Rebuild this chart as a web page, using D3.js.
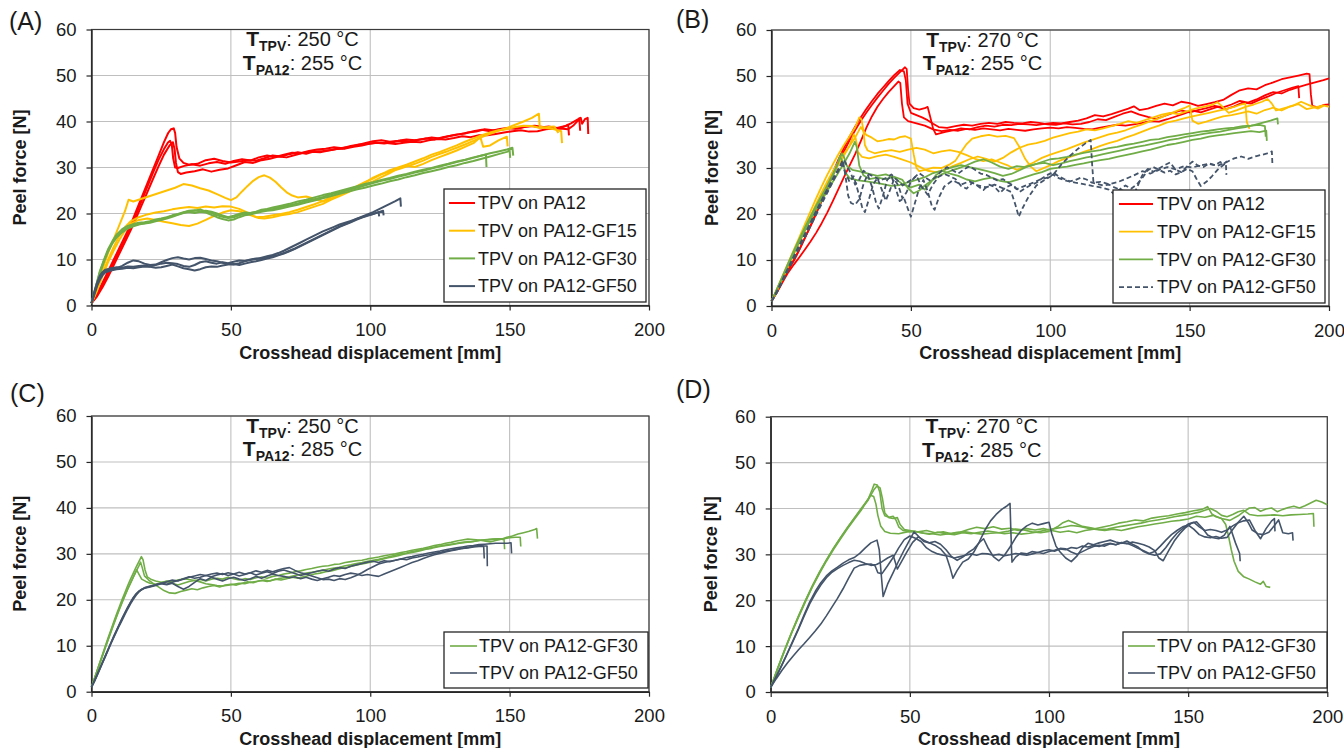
<!DOCTYPE html>
<html>
<head>
<meta charset="utf-8">
<script src="https://cdn.jsdelivr.net/npm/d3@7"></script>
<style>
  html, body { margin: 0; padding: 0; background: #fff; }
  svg { display: block; font-family: "Liberation Sans", Arial, sans-serif; }
</style>
</head>
<body>
<svg id="fig" width="1344" height="748"></svg>
<script>
// ---- axis ticks and labels ----
const xTicks = [0, 50, 100, 150, 200];
const yTicks = [0, 10, 20, 30, 40, 50, 60];
const panelLabels = ["(A)", "(B)", "(C)", "(D)"];
const seriesLabels = ["TPV on PA12", "TPV on PA12-GF15", "TPV on PA12-GF30", "TPV on PA12-GF50"];
const tempTPV = ["250", "270", "250", "270"];
const tempPA12 = ["255", "255", "285", "285"];

// ---- peel curves: [crosshead displacement mm, peel force N], three specimens per substrate ----
// (A) T_TPV 250 °C, T_PA12 255 °C
const a_pa12 = [
  [[0,0.5],[2,2.5],[4,5],[6,7.5],[8,10],[10,12.5],[12,15],[14,17.5],[16,20.5],[18,23.5],[20,26.5],[22,29.5],[24,32.5],[26,35.5],[27.5,37.5],[28.5,38.3],[29.5,38.5],[30,37.5],[30.5,34.5],[31.5,32],[33,31],[35,30.6],[38,30.8],[41,31.6],[44,31.9],[47,31.4],[50,31.1],[53,31.3],[56,31.6],[59,31.5],[62,32],[65,32.6],[68,32.4],[71,32.9],[74,33.3],[77,33],[80,33.5],[83,33.6],[86,33.8],[89,34.2],[92,34.4],[95,34.8],[98,35.3],[101,35.7],[104,35.9],[107,35.6],[110,35.8],[113,36.1],[116,35.9],[119,36.2],[122,36.5],[125,36.3],[128,36.8],[131,37.2],[134,37.4],[137,37.9],[140,38.2],[143,37.9],[146,38.3],[149,38.6],[152,38.4],[155,38.8],[158,39],[161,38.7],[164,38.9],[167,38.6],[170,39],[172,39.6],[174,40.3],[175.5,40.8],[176,39.5],[177,40.5],[178,40.8],[178.2,37.3]],
  [[0,0.5],[2,2.2],[4,4.5],[6,7],[8,9.5],[10,12],[12,14.5],[14,17],[16,19.8],[18,22.8],[20,25.8],[22,28.8],[24,31.6],[26,34],[27.5,35.5],[28.2,35.8],[28.8,35],[29.3,32],[30,30],[31,29.9],[33,30.3],[36,30.7],[39,30.4],[42,30.9],[45,31.2],[48,30.8],[51,31.4],[54,31.8],[57,31.5],[60,32.2],[63,32.6],[66,32.3],[69,32.8],[72,33.2],[75,33.1],[78,33.6],[81,33.9],[84,34.1],[87,34.4],[90,34.2],[93,34.7],[96,35],[99,35.1],[102,35.4],[105,35.2],[108,35.5],[111,35.8],[114,35.7],[117,36],[120,36.3],[123,36.1],[126,36.6],[129,36.9],[132,37.2],[135,37.6],[138,37.8],[141,38.3],[144,38.1],[147,38.2],[150,38.6],[153,38.5],[156,38.9],[159,39.1],[162,38.8],[165,38.5],[168,38.6],[170,39],[171,39.3],[171.3,37]],
  [[0,0.5],[2,2],[4,4],[6,6.3],[8,8.8],[10,11.3],[12,13.8],[14,16.3],[16,19],[18,21.8],[20,24.6],[22,27.4],[24,30.2],[26,32.8],[28,34.8],[29.2,35.5],[29.8,34],[30.3,31],[31,29],[32,28.6],[34,28.9],[37,29.2],[40,29.6],[43,29.1],[46,29.5],[49,29.8],[52,30.5],[55,31.2],[58,31],[61,31.6],[64,31.9],[67,32.4],[70,32.2],[73,32.7],[76,33.2],[79,33.4],[82,33.3],[85,33.7],[88,34],[91,34.1],[94,34.5],[97,34.8],[100,35.2],[103,35.4],[106,35.3],[109,35.1],[112,35.4],[115,35.6],[118,35.5],[121,35.9],[124,36.2],[127,36.1],[130,36.4],[133,36.8],[136,36.6],[139,37],[142,37],[145,37.3],[148,37.6],[151,37.9],[154,38.1],[157,37.8],[160,37.9],[163,38.3],[166,38.5],[169,38.4],[171,38.3],[173,39.2],[174.5,40.2],[175,40.7],[175.3,38]]
];
const a_gf15 = [
  [[0,0.5],[2,4],[4,8],[6,11.5],[8,14.5],[10,17.5],[12,20.5],[13.3,23],[15,22.6],[18,23.2],[21,23.8],[24,24.4],[27,25],[30,25.6],[33,26.4],[36,26.1],[39,25.5],[42,25],[45,24.2],[48,23.4],[50,22.9],[52,23.5],[54,24.8],[56,26],[58,27.1],[60,27.9],[62,28.3],[64,27.8],[66,26.9],[68,25.7],[70,24.6],[72,23.9],[74,23.5],[77,23.7],[80,23.2],[83,22.6],[86,23.2],[89,24],[92,25],[95,25.8],[98,26.6],[101,27.8],[104,28.6],[107,29.1],[110,29.6],[113,30.2],[116,30.8],[119,31.5],[122,32.3],[125,33],[128,33.6],[131,34.3],[134,35],[137,35.8],[140,36.6],[143,37.3],[146,38],[149,38.6],[152,39.3],[155,40],[158,40.8],[160.5,41.7],[160.8,38.9],[163,38.6],[166,38.3],[168.5,37.9],[168.8,35.3]],
  [[0,0.5],[2,3.5],[4,7],[6,10],[8,12.8],[10,15.2],[12,17],[14,18.3],[17,19.2],[20,19.8],[23,20.2],[26,20.5],[29,20.9],[32,21.2],[35,21.4],[38,21.2],[41,21.5],[44,21.3],[47,21.6],[50,21.5],[53,21],[56,20.2],[58,19.5],[60,19],[62,18.9],[65,19.2],[68,19.6],[71,19.9],[74,20.3],[77,20.9],[80,21.5],[83,22.1],[86,23],[89,23.8],[92,24.6],[95,25.5],[98,26.2],[101,27],[104,27.9],[107,28.8],[110,29.8],[113,30.4],[116,30.1],[119,30.8],[122,31.6],[125,32.3],[128,33],[131,33.7],[134,34.5],[137,35.3],[139.5,36.6],[140.5,34.5],[143,34.8],[146,35.9],[149,36.7],[149.3,34.6]],
  [[0,0.5],[2,3.2],[4,6.5],[6,9.5],[8,12],[10,14.3],[12,16.3],[14,17.8],[17,18.6],[20,18.9],[23,18.6],[26,18.2],[29,17.9],[32,17.5],[35,17.3],[38,17.8],[41,18.6],[44,19.5],[47,20.2],[50,20.7],[53,20.5],[56,19.9],[59,19.2],[62,19.3],[65,19.6],[68,19.9],[71,20.3],[74,20.8],[77,21.4],[80,22],[83,22.7],[86,23.6],[89,24.4],[92,25.1],[95,25.9],[98,26.8],[101,27.6],[104,28.5],[107,29.4],[110,30],[113,30.6],[116,31.3],[119,32],[122,32.8],[125,33.4],[128,34.1],[131,34.8],[134,35.6],[137,36.3],[140,37],[143,37.6],[146,38.1],[149,38.3],[152,38.8],[155,39.1],[158,39],[161,38.6],[164,38.8],[166,38.9],[167.5,37.5]]
];
const a_gf30 = [
  [[0,0.5],[1.5,4],[3,7.5],[4.5,10],[6,12.3],[7.5,14],[9,15.4],[11,16.6],[13,17.3],[15,17.7],[17,18],[19,18.1],[21,18.3],[23,18.7],[25,18.9],[27,19.2],[29,19.6],[31,19.9],[33,20.3],[35,20.6],[37,20.7],[39,20.5],[41,20.6],[43,20.4],[45,20],[47,19.6],[49,19.2],[51,19.5],[53,19.9],[55,20.2],[57,20.1],[59,20.3],[61,20.6],[63,20.9],[65,21],[68,21.4],[71,21.8],[74,22.2],[77,22.7],[80,23.1],[83,23.6],[86,24.2],[89,24.6],[92,25.1],[95,25.6],[98,26.1],[101,26.6],[104,27.1],[107,27.5],[110,28],[113,28.4],[116,28.9],[119,29.3],[122,29.8],[125,30.2],[128,30.7],[131,31.2],[134,31.6],[137,32.1],[140,32.6],[143,33.1],[146,33.5],[149,33.9],[151,34.3],[151.3,32.6]],
  [[0,0.5],[1.5,3.6],[3,7],[4.5,9.6],[6,11.8],[7.5,13.5],[9,14.8],[11,15.9],[13,16.7],[15,17.2],[17,17.6],[19,17.9],[21,18.2],[23,18.5],[25,18.6],[27,18.9],[29,19.3],[31,19.7],[33,20.1],[35,20.3],[37,20.1],[39,20.4],[41,20.2],[43,19.7],[45,19.2],[47,18.8],[49,18.5],[51,18.7],[53,19.2],[55,19.6],[57,19.8],[59,20.1],[61,20.4],[63,20.6],[65,20.7],[68,21.1],[71,21.5],[74,21.9],[77,22.4],[80,22.8],[83,23.3],[86,23.8],[89,24.3],[92,24.7],[95,25.2],[98,25.6],[101,26.1],[104,26.5],[107,27],[110,27.4],[113,27.9],[116,28.3],[119,28.8],[122,29.2],[125,29.6],[128,30.1],[131,30.5],[134,31],[137,31.4],[140,31.9],[143,32.4],[146,32.9],[149,33.4],[150,33.7],[150.2,32.1]],
  [[0,0.5],[1.5,3.8],[3,7.2],[4.5,9.8],[6,12],[7.5,13.7],[9,15],[11,16.2],[13,16.9],[15,17.4],[17,17.7],[19,17.8],[21,18],[23,18.3],[25,18.7],[27,19.1],[29,19.5],[31,19.8],[33,20.2],[35,20.5],[37,20.6],[39,20.9],[41,20.4],[43,20.1],[45,19.6],[47,19.3],[49,19],[51,19.2],[53,19.6],[55,19.9],[57,20.1],[59,20.4],[61,20.8],[63,21],[65,21.3],[68,21.7],[71,22.1],[74,22.6],[77,23],[80,23.5],[83,24],[86,24.4],[89,24.9],[92,25.4],[95,25.9],[98,26.4],[101,26.8],[104,27.3],[107,27.7],[110,28.2],[113,28.6],[116,29.1],[119,29.5],[122,29.9],[125,30.4],[128,30.8],[131,31.3],[134,31.7],[137,32.2],[140,32.6],[141.5,32.8],[141.7,30.1]]
];
const a_gf50 = [
  [[0,0.5],[1,3],[2,5],[3,6.5],[4,7.3],[5,7.8],[7,8.1],[9,8.3],[11,8.2],[13,8.5],[15,8.4],[17,8.6],[19,8.7],[21,8.5],[23,8.8],[25,9.1],[27,9.3],[29,9.2],[31,9],[33,8.6],[35,8.4],[37,8.8],[39,9.4],[41,9.6],[43,9.3],[45,9.1],[47,9.4],[49,9.2],[51,9.5],[53,9.8],[55,9.7],[57,10],[59,10.2],[61,10.1],[63,10.4],[65,10.8],[67,11],[69,11.4],[71,11.9],[73,12.4],[75,13],[77,13.6],[79,14.2],[81,14.8],[83,15.4],[85,16],[87,16.6],[89,17.2],[91,17.7],[93,18.2],[95,18.8],[97,19.3],[99,19.8],[101,20.3],[103,20.9],[105,21.5],[107,22.1],[109,22.7],[110.8,23.3],[111,21.5]],
  [[0,0.5],[1,2.6],[2,4.6],[3,6],[4,7],[5,7.5],[7,7.8],[9,8.1],[11,8.6],[13,9.3],[15,9.8],[17,9.6],[19,9.1],[21,8.8],[23,8.9],[25,9.4],[27,9.9],[29,10.3],[31,10.5],[33,10.2],[35,10],[37,10.3],[39,10.4],[41,10.1],[43,9.8],[45,9.6],[47,9.3],[49,9],[51,8.9],[53,9.2],[55,9.6],[57,9.9],[59,10.1],[61,10.4],[63,10.7],[65,11],[67,11.4],[69,11.9],[71,12.5],[73,13.1],[75,13.7],[77,14.3],[79,14.9],[81,15.5],[83,16.1],[85,16.6],[87,17.1],[89,17.6],[91,18],[93,18.4],[95,18.8],[97,19.2],[99,19.6],[101,19.9],[103,20.3],[104.6,20.6],[104.8,19.6]],
  [[0,0.5],[1,2.3],[2,4.2],[3,5.6],[4,6.6],[5,7.2],[7,7.6],[9,7.9],[11,8],[13,8.2],[15,8.1],[17,8.3],[19,8.5],[21,8.4],[23,8.2],[25,8.3],[27,8.6],[29,8.9],[31,8.5],[33,8.1],[35,7.9],[37,7.6],[39,7.9],[41,8.3],[43,8.5],[45,8.4],[47,8.7],[49,8.9],[51,9],[53,8.8],[55,9.1],[57,9.4],[59,9.6],[61,9.9],[63,10.2],[65,10.5],[67,10.9],[69,11.3],[71,11.8],[73,12.3],[75,12.9],[77,13.5],[79,14.1],[81,14.7],[83,15.3],[85,15.9],[87,16.5],[89,17.1],[91,17.6],[93,18.1],[95,18.6],[97,19.1],[99,19.5],[101,19.9],[103,20.3],[103.2,19.4]]
];

// (B) T_TPV 270 °C, T_PA12 255 °C
const b_pa12 = [
  [[0,1],[2,3.5],[4,6],[6,8.2],[8,10],[10,12.3],[12,14.8],[14,17.3],[16,20],[18,22.8],[20,25.6],[22,28.4],[24,31],[26,33.6],[28,36],[30,38.2],[32,40.2],[34,42],[36,43.7],[38,45.3],[40,46.8],[42,48.3],[44,49.6],[46,50.8],[47.9,51.9],[48.5,51.5],[49,47],[49.5,44],[51,43],[53,42.7],[55,43],[56,43.3],[57,41],[58,38.5],[59,37.3],[62,37.8],[65,38.2],[68,38.6],[71,38.4],[74,38.9],[77,39.2],[80,39],[83,39.4],[86,39.3],[89,39.6],[92,39.5],[95,39.3],[98,39.6],[101,39.8],[104,39.7],[107,40],[110,40.3],[113,40.8],[116,41.5],[119,41.2],[122,41.7],[125,42.3],[128,42.9],[130,43.4],[132,42.6],[135,42.9],[138,43.5],[141,44],[144,43.6],[147,44.4],[150,44.1],[153,43.5],[156,43.9],[159,44.3],[162,44.8],[165,45.9],[168,46.9],[171,47.3],[174,47.1],[177,48],[180,48.6],[183,49.3],[186,49.7],[189,50.1],[192,50.5],[193,50.4],[193.5,46],[194,43.5],[196,43.2],[198,43.7],[200,43.8]],
  [[0,1],[2,3.2],[4,5.6],[6,7.7],[8,9.8],[10,12.2],[12,14.8],[14,17.5],[16,20.3],[18,23.2],[20,26.1],[22,29],[24,31.8],[26,34.4],[28,36.8],[30,39],[32,41],[34,42.8],[36,44.5],[38,46.1],[40,47.5],[42,48.9],[44,50.2],[46.1,51.3],[47.5,51],[48.2,49],[48.8,44],[50,42],[52,41.5],[54,41],[56,40.4],[58,39.6],[60,38.9],[63,38.7],[66,39.1],[69,39.4],[72,39.2],[75,39.6],[78,39.8],[81,39.6],[84,40],[87,39.8],[90,39.7],[93,40],[96,39.8],[99,39.5],[102,39.4],[105,39.7],[108,39.5],[111,39.6],[114,40],[117,40.6],[120,40.4],[123,41.1],[126,41.8],[129,42.3],[132,41.6],[135,41.1],[138,40.7],[141,41.3],[144,42],[147,42.5],[150,42.1],[153,42.6],[156,43],[159,43.5],[162,43.2],[165,43.8],[168,44.6],[171,44.2],[174,44.9],[177,45.8],[180,46.5],[183,46.2],[186,47],[189,47.6],[192,48.1],[195,48.6],[198,49.1],[200,49.5]],
  [[0,1],[2,3],[4,5.2],[6,7.3],[8,9],[10,10.6],[12,12.3],[14,14],[16,15.9],[18,18],[20,20.3],[22,22.8],[24,25.4],[26,28],[28,30.5],[30,33],[32,35.8],[34,38.7],[36,41.2],[38,43.3],[40,45],[42,46.5],[44,47.8],[45.5,48.8],[46.2,48.5],[46.8,44],[47.5,41],[49,40.2],[52,39.7],[55,39.2],[58,38.4],[61,38],[64,38.3],[67,38.1],[70,38.5],[73,38.3],[76,38.6],[79,38.4],[82,38.2],[85,38.5],[88,38.3],[91,38.1],[94,38.4],[97,38.6],[100,38.8],[103,38.6],[106,38.9],[109,38.7],[112,38.5],[115,38.4],[118,38.8],[121,39.1],[124,39.4],[127,39.2],[130,39.5],[133,39.8],[136,40.2],[139,40.1],[142,40.6],[145,41.2],[148,41.8],[151,42.5],[154,42.1],[157,42.7],[160,43.3],[163,42.8],[166,43.4],[169,44.2],[172,44],[175,44.8],[178,45.5],[181,46.3],[184,46.9],[187,47.5],[189,47.8],[189.3,45.2]]
];
const b_gf15 = [
  [[0,1],[2,3.8],[4,6.6],[6,9.4],[8,12.2],[10,15],[12,17.8],[14,20.6],[16,23.4],[18,26],[20,28.5],[22,30.8],[24,33],[26,35],[28,36.9],[30,38.8],[31.5,41],[32.3,40.5],[33,38],[34,37.2],[36,36.6],[38,35.8],[40,36],[42,36.3],[44,36.2],[46,36.7],[48,36.9],[50,36.4],[51,33],[52,30],[53,29.3],[55,29.6],[58,30.1],[61,30],[64,30.8],[66,31.6],[68,33.5],[70,35.2],[72,36.4],[75,36.9],[78,37.2],[81,36.8],[84,37],[87,36.5],[89,34.5],[91,32],[93,30.3],[95,29.3],[97,29.8],[100,30.6],[103,31.5],[106,32.2],[109,32.8],[112,33.5],[115,34.1],[118,34.8],[121,35.4],[124,35.9],[127,36.6],[130,37.2],[133,37.9],[136,38.6],[139,39.2],[142,39.9],[145,40.3],[148,40.8],[151,41.2],[154,41.6],[157,42],[160,42.4],[163,42.8],[166,43.3],[168,43.7],[170,44],[170.5,40],[171.5,38.5]],
  [[0,1],[2,3.6],[4,6.2],[6,8.9],[8,11.6],[10,14.3],[12,17],[14,19.6],[16,22.2],[18,24.7],[20,27.1],[22,29.3],[24,31.3],[26,33.1],[28,34.8],[30,36.6],[32,38.9],[33,38],[33.5,35],[34.5,33.8],[37,33.2],[40,33.6],[43,33.9],[46,33.5],[49,34],[52,34.4],[55,34],[58,33.2],[61,33.6],[64,33.9],[67,33.5],[70,32.8],[73,32],[76,31.5],[79,31.9],[82,31.2],[85,30.5],[88,29.6],[91,30.3],[94,31.2],[97,32.2],[100,32.9],[103,33.5],[106,34.1],[109,34.8],[112,35.5],[115,36.1],[118,36.7],[121,37.3],[124,37.7],[127,38.2],[130,38.9],[133,39.5],[136,40.2],[139,40.8],[142,41.6],[145,42.3],[148,43],[150,43.6],[151,40.3],[153,39.6],[156,40.1],[159,40.7],[162,41.2],[165,41.5],[168,41.9],[171,42.3],[174,41.8],[177,42.6],[180,43.1],[183,42.5],[186,43.4],[189,43.9],[192,42.8],[195,43.2],[198,43.6],[200,43.3]],
  [[0,1],[2,3.4],[4,6],[6,8.6],[8,11.2],[10,13.8],[12,16.4],[14,19],[16,21.5],[18,24],[20,26.4],[22,28.6],[24,30.7],[26,32.7],[28,34.8],[29.5,37.3],[30.2,36.5],[31,33.5],[32.5,32.4],[35,32.1],[38,32.6],[41,32.9],[44,32.4],[47,31.8],[50,31.2],[53,30.3],[56,29.4],[59,29.1],[62,29.6],[65,30.4],[68,31.1],[71,31.9],[74,32.5],[77,32],[80,31.4],[83,32.2],[86,33.4],[89,34.4],[92,35.1],[95,35.4],[98,35.9],[101,36.6],[104,37.1],[107,37.6],[110,37.9],[113,38.4],[116,38.2],[119,38.6],[122,39.1],[125,39.6],[128,40.2],[131,39.8],[134,40.4],[137,41],[140,41.6],[143,42],[146,41.7],[149,42.3],[152,42.9],[155,43.3],[158,43.7],[160,44.3],[162,43.2],[164,42],[167,42.6],[170,43.3],[173,43.8],[176,44.4],[178,45],[179.5,44],[181,42.5],[184,43],[187,43.5],[190,44.4],[193,43.6],[196,42.9],[198,43.5]]
];
const b_gf30 = [
  [[0,1],[2,3.5],[4,6.2],[6,8.9],[8,11.5],[10,14],[12,16.4],[14,18.7],[16,20.9],[18,23],[20,25],[22,27],[24,29],[26,31],[28,33.2],[29.9,35.7],[30.6,34.5],[31.5,30.5],[33,28.4],[35,27.6],[38,27.9],[41,27.6],[44,28.1],[47,27.4],[49,25.6],[51,24.5],[53,25.1],[55,26.2],[58,27.5],[61,28.6],[64,29.3],[67,29.9],[70,30.6],[73,31.4],[76,31.9],[79,31.2],[82,30.3],[85,29.8],[88,30.4],[91,30.2],[94,30.7],[97,31.3],[100,31.9],[103,32.1],[106,32.4],[109,32.9],[112,33.3],[115,33.6],[118,33.9],[121,34.3],[124,34.6],[127,35],[130,35.3],[133,35.7],[136,36.1],[139,36.3],[142,36.7],[145,37],[148,37.3],[151,37.6],[154,37.9],[157,38.1],[160,38.4],[163,38.6],[166,38.8],[169,39.1],[172,39.2],[175,39.4],[177,39.1],[177.3,36.8]],
  [[0,1],[2,3.7],[4,6.5],[6,9.3],[8,12],[10,14.6],[12,17.1],[14,19.5],[16,21.8],[18,24],[20,26.2],[22,28.6],[24,31.3],[25.2,33.2],[26,32.4],[27,30.5],[29,29.6],[32,29.2],[35,28.7],[38,28.3],[41,28.6],[44,27.9],[47,26.5],[50,25.8],[53,26.4],[55,25.3],[57,26.8],[59,28.5],[62,29.6],[65,30.2],[68,30.6],[71,30.2],[74,29.8],[77,29.4],[80,28.9],[83,28.3],[86,28.7],[89,29.5],[92,30.4],[95,30.9],[98,31.1],[101,30.6],[104,31],[107,31.5],[110,31.9],[113,32.3],[116,32.6],[119,33],[122,33.4],[125,33.8],[128,34.2],[131,34.6],[134,34.9],[137,35.3],[140,35.7],[143,36.1],[146,36.4],[149,36.8],[152,37.1],[155,37.4],[158,37.7],[161,37.9],[164,38.3],[167,38.6],[170,38.9],[173,39.3],[176,39.8],[179,40.3],[181.5,40.8],[181.7,39.5]],
  [[0,1],[2,3.6],[4,6.3],[6,9],[8,11.7],[10,14.3],[12,16.8],[14,19.2],[16,21.5],[18,23.7],[20,25.9],[22,28.2],[23.5,30.5],[24.5,32.5],[25.5,31.5],[26.5,29],[28,27.8],[31,27.3],[34,27.1],[37,26.8],[40,26.5],[43,26.1],[46,26.3],[49,26.9],[52,27.4],[55,28],[58,28.9],[61,29.4],[64,28.8],[67,28.3],[70,27.5],[73,27.1],[76,27.6],[79,27.9],[82,27.2],[85,26.9],[88,27.4],[91,28],[94,28.6],[97,29.1],[100,29.8],[103,30.1],[106,30.3],[109,30.7],[112,31],[115,31.4],[118,31.7],[121,32],[124,32.4],[127,32.8],[130,33.2],[133,33.6],[136,34],[139,34.5],[142,35],[145,35.3],[148,35.7],[151,36.1],[154,36.4],[157,36.8],[160,37.1],[163,37.3],[166,37.6],[169,37.8],[172,38],[175,37.8],[177.5,38.1],[177.7,35.9]]
];
const b_gf50 = [
  [[0,1],[2,3.3],[4,5.8],[6,8.3],[8,10.8],[10,13.2],[12,15.6],[14,18],[16,20.4],[18,22.8],[20,25.1],[22,27.4],[24,29.6],[25.5,31.7],[26.5,28.5],[27.5,24],[28.5,22.4],[30,22],[31.5,23.2],[33,26.5],[34.5,28.6],[36,26],[37.5,22.5],[38.5,21.2],[40,24],[41.5,27.4],[43,28.3],[44.5,25.6],[46,22.8],[47.5,23.5],[49,21],[50,19.4],[51.5,22.5],[53,25.6],[54.5,27.4],[56,25],[57.5,21.8],[58.5,20.9],[60,23.5],[62,26],[65,27.3],[68,26.4],[71,27.1],[74,26.2],[77,25.8],[80,26.4],[83,25.6],[86,24.8],[87.5,22],[88.7,19.4],[90,21.2],[92,23.5],[95,26.2],[98,27.4],[101,28.5],[104,30.8],[107,32.6],[110,34.2],[112.5,35.3],[114.5,36.1],[115,31],[115.5,26.8],[118,27],[121,26.5],[124,26.9],[127,27.6],[130,28.4],[133,29.3],[136,28.8],[139,29.6],[142,30.2],[145,29.7],[148,30.4],[151,30.1],[154,30.6],[157,30.9],[160,30.5],[163,31.2],[166,32.1],[168.5,32.5],[171,32],[174,32.6],[177.5,33.1],[179.5,33.6],[179.7,30.8]],
  [[0,1],[2,3],[4,5.4],[6,7.8],[8,10.2],[10,12.6],[12,15],[14,17.4],[16,19.8],[18,22.2],[20,24.6],[22,27],[24,29.4],[25.5,30.8],[26.5,29],[28,27],[29.5,28.2],[31,25],[32.5,21.5],[33.5,20.4],[35,23.3],[36.5,26.5],[38,27.8],[39.5,25.4],[41,22.9],[42.5,25.2],[44,27.6],[45.5,26.2],[47,23.4],[48.5,24.8],[50,27.1],[52,28.3],[54,25.8],[56,24.2],[58,26.5],[60,28.1],[62,28.7],[64,28.2],[66,27.6],[68,26.1],[70,25.5],[72,26.8],[74,26.1],[76,25.2],[78,26.4],[80,25.9],[82,24.6],[84,25.8],[86,26.3],[88,25.4],[90,25.9],[93,26.6],[96,27.4],[99,27.9],[101,28.6],[103,27.8],[106,27.2],[109,26.8],[112,26.5],[115,26.1],[118,25.8],[121,25.3],[123,24.3],[125,25.4],[127,26.2],[129,25.5],[131,26.4],[133,27.8],[135,29.5],[137,30.2],[139,29.6],[141,29],[143,29.4],[145,28.6],[147,29.1],[149,29.8],[151,29.3],[152.5,27.6],[154,26.1],[156,27],[158,28.2],[160,29.6],[162,30.6],[163,31],[163.2,28.5]],
  [[0,1],[2,3.1],[4,5.6],[6,8.1],[8,10.6],[10,13.1],[12,15.6],[14,18.1],[16,20.6],[18,23],[20,25.4],[22,27.7],[24,29.8],[26,31.8],[27,30.5],[28.5,28.8],[30,26.4],[31.5,27.5],[33,29.4],[35,28.6],[37,28.1],[39,27.3],[41,27.8],[43,28.6],[45,27.4],[47,26.2],[49,27],[51,27.8],[53,28.9],[55,28],[57,27.2],[59,28.1],[61,29.4],[63,30.2],[65,29.5],[67,28.8],[69,29.7],[71,30.4],[73,29.6],[75,28.8],[77,28.5],[79,27.9],[81,27.3],[83,27.6],[85,26.8],[87,26.1],[89,24.8],[91,25.6],[93,26.3],[95,26.8],[97,27.7],[99,28.5],[101,29.1],[103,28.2],[105,27.6],[107,27.1],[109,27.4],[111,27.9],[113,27.5],[115,26.8],[117,26.5],[119,26.2],[121,26.4],[123,25.8],[125,25.3],[127,24.9],[129,24.6],[130,24.2],[131.5,26.3],[133,28.4],[135,29.8],[137,29.2],[139,29.9],[141,30.6],[143,31.2],[145,29.6],[147,29.1],[149,30.3],[151,31.4],[153,30.5],[155,30.2],[157,31],[159,30.6],[161,31.3],[162,30.8],[163.5,31.5]]
];

// (C) T_TPV 250 °C, T_PA12 285 °C
const c_gf30 = [
  [[0,1],[1,2.8],[2,4.6],[3,6.4],[4,8.2],[5,10],[6,11.8],[7,13.5],[8,15.2],[9,16.9],[10,18.5],[11,20.1],[12,21.6],[13,23.1],[14,24.5],[15,25.8],[16,27.1],[17,28.3],[17.9,29.4],[18.5,28.7],[19.2,26.5],[20,25],[21.5,24.4],[23,24.1],[25,23.8],[27,24],[29,23.6],[31,23.2],[33,23.6],[35,24],[37,24.2],[39,24.4],[41,24.1],[43,24.5],[45,24.7],[47,24.5],[49,24.9],[51,24.6],[53,24.3],[55,24.6],[57,24.4],[59,24.8],[61,25],[63,24.7],[65,25.1],[67,25.3],[69,25.6],[71,25.8],[73,26.1],[75,26.3],[77,26.6],[79,26.8],[81,27.1],[83,27.3],[85,27.4],[87,27.7],[89,27.8],[91,28.1],[93,28.3],[95,28.5],[97,28.6],[99,28.9],[101,29.1],[103,29.3],[105,29.6],[107,29.8],[109,30],[111,30.3],[113,30.5],[115,30.8],[117,31],[119,31.2],[121,31.5],[123,31.8],[125,32],[127,32.3],[129,32.5],[131,32.8],[133,33],[135,33.2],[137,33.1],[139,33],[141,32.8],[143,32.6],[145,32.9],[147,33.2],[149,33.6],[151,33.9],[153,34.3],[155,34.6],[157,34.9],[159,35.3],[159.7,35.5],[160,33.3]],
  [[0,1],[1,2.7],[2,4.4],[3,6.1],[4,7.9],[5,9.6],[6,11.3],[7,13],[8,14.7],[9,16.3],[10,17.9],[11,19.4],[12,20.9],[13,22.3],[14,23.6],[15,24.9],[16,26.2],[17,27.4],[17.6,28.2],[18.2,27],[19,25.2],[20.5,24.3],[22,23.6],[24,22.8],[26,22],[28,21.5],[30,21.4],[32,21.8],[34,22.1],[36,22.4],[38,22.2],[40,22.6],[42,22.9],[44,23.1],[46,22.8],[48,23.2],[50,23.4],[52,23.2],[54,23.6],[56,23.9],[58,23.7],[60,24.1],[62,24.3],[64,24.1],[66,24.5],[68,24.3],[70,24.6],[72,24.9],[74,24.7],[76,25],[78,25.3],[80,25.6],[82,25.8],[84,26.1],[86,26.3],[88,26.6],[90,26.9],[92,27.1],[94,27.4],[96,27.7],[98,27.9],[100,28.2],[102,28.5],[104,28.8],[106,29.1],[108,29.3],[110,29.6],[112,29.9],[114,30.2],[116,30.4],[118,30.7],[120,31],[122,31.2],[124,31.5],[126,31.7],[128,31.9],[130,32.1],[132,32.3],[134,32.5],[136,32.6],[138,32.8],[140,33],[142,33.1],[144,33.2],[146,33.3],[148,33.3],[150,33.5],[152,33.6],[153.8,33.6],[154,31.6]],
  [[0,1],[1,2.7],[2,4.5],[3,6.3],[4,8],[5,9.8],[6,11.5],[7,13.2],[8,14.9],[9,16.5],[10,18.1],[11,19.6],[12,21],[13,22.4],[14,23.7],[15,25],[16.2,26.5],[17,25.6],[18,24.5],[19.5,24],[21,23.6],[23,23.4],[25,23.7],[27,24.1],[29,24],[31,24.3],[33,24.6],[35,24.4],[37,24.2],[39,23.9],[41,23.5],[43,23.3],[45,23.1],[47,23],[49,23.2],[51,23.4],[53,23.6],[55,23.5],[57,23.8],[59,24],[61,24.2],[63,24],[65,24.3],[67,24.6],[69,24.8],[71,25],[73,25.3],[75,25.5],[77,25.8],[79,26],[81,26.2],[83,26.4],[85,26.7],[87,26.9],[89,27.1],[91,27.4],[93,27.6],[95,27.9],[97,28.1],[99,28.4],[101,28.6],[103,28.8],[105,29.1],[107,29.4],[109,29.7],[111,30],[113,30.2],[115,30.5],[117,30.7],[119,31],[121,31.2],[123,31.5],[125,31.7],[127,31.9],[129,32.1],[131,32.3],[133,32.5],[135,32.6],[137,32.7],[139,32.9],[141,33],[143,33.1],[145,33.2],[147,33.2],[148,33.1],[148.2,31]]
];
const c_gf50 = [
  [[0,1],[1,2.3],[2,3.7],[3,5.1],[4,6.5],[5,7.9],[6,9.3],[7,10.7],[8,12.1],[9,13.4],[10,14.7],[11,16],[12,17.2],[13,18.4],[14,19.5],[15,20.5],[16,21.3],[17,21.9],[18,22.3],[19,22.6],[21,22.9],[23,23.3],[25,23.6],[27,23.4],[29,23.8],[31,24.2],[33,24.5],[35,24.9],[37,25.2],[39,25.5],[41,25.3],[43,25.6],[45,25.8],[47,25.5],[49,25.9],[51,25.6],[53,25.2],[55,25.5],[57,25.9],[59,25.4],[61,25.8],[63,26.1],[65,25.7],[67,26.2],[69,26.5],[71,26.1],[73,25.7],[75,25.3],[77,25.6],[79,25.9],[81,26.2],[83,26.5],[85,26.2],[87,26.7],[89,27],[91,26.8],[93,27.3],[95,27.6],[97,27.9],[99,28.2],[101,28.4],[103,28.1],[105,28.5],[107,28.3],[109,28.6],[111,28.9],[113,28.7],[115,29.1],[117,29.3],[119,29.6],[121,29.8],[123,30.1],[125,30.3],[127,30.6],[129,30.8],[131,31],[133,31.2],[135,31.3],[137,31.5],[139,31.6],[140.7,31.6],[140.9,29]],
  [[0,1],[1,2.2],[2,3.5],[3,4.9],[4,6.3],[5,7.7],[6,9.1],[7,10.5],[8,11.8],[9,13.1],[10,14.4],[11,15.6],[12,16.8],[13,18],[14,19.1],[15,20.1],[16,21],[17,21.7],[18,22.2],[19,22.5],[21,22.8],[23,23.1],[25,23.5],[27,23.3],[29,23.6],[31,22.9],[33,22.3],[35,22.9],[37,23.8],[39,24.6],[41,24.2],[43,24.9],[45,24.5],[47,24.1],[49,24.6],[51,24.9],[53,24.5],[55,24.2],[57,24.6],[59,25.1],[61,24.7],[63,25.2],[65,25.6],[67,25.3],[69,25.1],[71,24.8],[73,25],[75,24.6],[77,24.9],[79,24.5],[81,24.2],[83,24.6],[85,24.9],[87,25.3],[89,25.1],[91,25.5],[93,25.8],[95,25.6],[97,25.3],[99,25.5],[101,25.3],[103,25.1],[105,25.6],[107,26.1],[109,26.6],[111,27.1],[113,27.6],[115,28.1],[117,28.5],[119,29],[121,29.4],[123,29.8],[125,30.1],[127,30.4],[129,30.7],[131,30.9],[133,31.2],[135,31.4],[137,31.6],[139,31.8],[141,31.7],[141.9,31.7],[142,27.3]],
  [[0,1],[1,2.2],[2,3.6],[3,5],[4,6.4],[5,7.8],[6,9.2],[7,10.6],[8,12],[9,13.3],[10,14.6],[11,15.9],[12,17.1],[13,18.3],[14,19.4],[15,20.4],[16,21.2],[17,21.8],[18,22.2],[19,22.6],[21,23],[23,23.2],[25,23.6],[27,23.9],[29,24.3],[31,24.1],[33,24.6],[35,25],[37,24.7],[39,24.9],[41,25.3],[43,25],[45,25.4],[47,25.7],[49,25.3],[51,25.6],[53,26],[55,25.6],[57,25.9],[59,26.3],[61,26],[63,26.4],[65,26.1],[67,26.5],[69,26.8],[71,27],[73,26.4],[75,25.9],[77,25.6],[79,25.2],[81,24.8],[83,24.4],[85,24.5],[87,24.2],[89,24.6],[91,24.4],[93,24.8],[95,25.3],[97,25.9],[99,26.6],[101,27.2],[103,27.8],[105,28.1],[107,28.4],[109,28.6],[111,28.9],[113,29.2],[115,29.4],[117,29.7],[119,29.9],[121,30.2],[123,30.4],[125,30.6],[127,30.9],[129,31.1],[131,31.3],[133,31.5],[135,31.7],[137,31.8],[139,32],[141,32.1],[143,32.2],[145,32.3],[147,32.3],[149,32.3],[150.5,32.4],[150.7,30.1]]
];

// (D) T_TPV 270 °C, T_PA12 285 °C
const d_gf30 = [
  [[0,1],[2.5,5.2],[5,9.2],[7.5,13],[10,16.6],[12.5,20],[15,23.2],[17.5,26.1],[20,28.8],[22.5,31.3],[25,33.6],[27.5,35.8],[30,37.9],[32.5,40],[35,42],[36.5,44.2],[37.2,45.3],[38.3,45.1],[39.2,43.6],[40,40],[41,38.4],[42.5,38.1],[44,38.3],[45,37.5],[46,36],[47.5,35.2],[50,35],[53,34.9],[56,35.2],[59,34.7],[62,34.9],[65,34.5],[68,34.8],[71,35.4],[74,35.9],[77,35.6],[80,36],[83,35.5],[86,35.7],[89,35.2],[92,35.6],[95,35.3],[98,35.6],[101,35.2],[104,34.8],[107,35.1],[110,34.7],[113,35.2],[116,35.5],[119,35.9],[122,36.3],[125,36.8],[128,37.1],[131,37.5],[134,37.3],[137,37.9],[140,38.2],[143,38.4],[146,38.8],[149,39.1],[152,39.5],[155,39.8],[157,40.4],[158.5,38.8],[160,38.2],[162,37.8],[163.5,36.5],[164.5,34],[165.5,31],[166.5,28.5],[168,26.3],[170,25.1],[172,24.6],[174,24],[176,23.5],[177,24.1],[178,23],[179.5,22.8]],
  [[0,1],[2.5,5.1],[5,9.1],[7.5,12.9],[10,16.5],[12.5,19.9],[15,23.1],[17.5,26],[20,28.7],[22.5,31.2],[25,33.5],[27.5,35.7],[30,37.8],[32.5,39.8],[35,41.8],[37,44],[38.2,44.9],[39.3,44.5],[40.2,42],[41,39],[42.5,38],[44,37.8],[45.5,38],[46.5,36.5],[48,35.4],[51,35.1],[54,34.7],[57,34.4],[60,34.8],[63,34.5],[66,34.3],[69,34.7],[72,34.5],[75,34.8],[78,35.1],[81,34.8],[84,34.5],[87,34.7],[90,34.4],[93,34.6],[96,34.9],[99,35.3],[102,35.6],[105,35.9],[108,36.3],[111,36.1],[114,35.7],[117,35.4],[120,35.2],[123,35.5],[126,35.2],[129,35.6],[132,36],[135,36.3],[138,36.6],[141,36.9],[144,37.2],[147,37.4],[150,37.7],[153,38.3],[156,38.1],[159,38.5],[162,37.8],[165,37.4],[168,38.4],[170,39.3],[172,40.1],[174,40.2],[176,39.4],[178,39.9],[180,40.1],[182,39.3],[184,39.8],[186,40.2],[188,40.5],[190,40.1],[192,40.6],[194,41.2],[196,41.8],[198,41.4],[200,40.8]],
  [[0,1],[2.5,5],[5,9],[7.5,12.8],[10,16.3],[12.5,19.7],[15,22.9],[17.5,25.8],[20,28.5],[22.5,31],[25,33.3],[27.5,35.5],[30,37.6],[32.5,39.6],[34.5,41.6],[35.9,42.9],[37,42.6],[37.8,41],[38.5,38.5],[39.5,36.2],[41,35],[43,34.6],[46,34.5],[49,34.9],[52,35],[55,34.6],[58,34.5],[61,34.2],[64,34.5],[67,34.8],[70,34.9],[73,34.6],[76,34.4],[79,34.6],[82,34.7],[85,35],[88,35.5],[91,35.3],[94,34.9],[97,34.7],[100,35],[103,36],[105,36.9],[107,37.4],[109,36.9],[112,36.1],[115,35.8],[118,35.4],[121,35.5],[124,35.9],[127,36.2],[130,36.5],[133,36.8],[136,37.2],[139,37.5],[142,37.8],[145,38.2],[148,38.5],[151,38.8],[154,39.2],[156,39.6],[158,40],[160,39.4],[162,38.5],[164,38.2],[166,38.7],[168,39.3],[170,39.6],[172,38.7],[175,38.4],[178,38.5],[181,38.6],[184,38.4],[187,38.6],[190,38.7],[193,38.8],[195,38.9],[195.2,36]]
];
const d_gf50 = [
  [[0,1],[2,3.4],[4,5.9],[6,8.5],[8,11.2],[10,13.9],[12,16.8],[14,19.6],[16,21.9],[18,23.8],[20,25.3],[22,26.4],[24,27.2],[26,28.1],[28,28.8],[30,29.3],[32,30.2],[34,31.4],[36,32.5],[38.2,33.1],[39,31],[39.8,25],[40.4,20.8],[42,23.5],[44,26],[46,28.6],[48,31],[50,33.2],[51.5,34.9],[53,34],[55,32.8],[57,32.5],[59,32],[61,31.2],[63,29.8],[64.5,27],[65.5,24.8],[67,26.5],[69,28.3],[71,29],[73,30.5],[75,32.8],[77,35.3],[79,37.3],[81,38.7],[83,39.8],[85,40.6],[86,41.1],[86.3,35],[86.7,28.3],[88,29.4],[90,30.3],[92,30.1],[94,30.6],[96,30.4],[98,30.8],[100,31],[102,30.7],[104,31.2],[106,31],[108,31.5],[110,31.3],[112,31.8],[114,31.6],[116,32],[118,31.7],[120,32.2],[122,32.4],[124,32.1],[126,32.5],[128,32.3],[130,32.7],[132,32.4],[134,32.1],[136,31.6],[138,30.8],[139.5,29.2],[141,28.6],[143,30.8],[145,32.9],[147,34.5],[149,35.8],[151,36.7],[153,37.1],[155,35.8],[157,34.2],[159,33.6],[161,33.4],[163,34.2],[165,36.1],[167,32.5],[168.5,30.2],[168.7,28.5]],
  [[0,1],[2,3.3],[4,5.8],[6,8.4],[8,11],[10,13.7],[12,16.5],[14,19.2],[16,21.4],[18,23.3],[20,24.9],[22,26.1],[24,26.9],[26,27.6],[28,28.2],[30,28.7],[32,28.5],[34,28],[36,27.6],[38,27.8],[40,28.4],[42,29.2],[44,29.8],[45.5,26.8],[47,28.4],[49,30.6],[51,32.6],[53,33.8],[55,33.1],[57,32.5],[59,32.8],[61,32.2],[63,31],[65,29.5],[67,28.7],[69,29.4],[71,30.4],[73,31.2],[75,32.6],[76.5,33.4],[78,31.5],[80,29.5],[82,28.6],[84,29.8],[86,31.6],[88,33.6],[90,35.2],[92,36.2],[94,36.8],[96,36.4],[98,36.7],[100,37],[101,34.5],[102.5,31.8],[104,30.5],[106,29.2],[108,28.4],[110,29.6],[112,31.4],[114,32.4],[116,32.1],[118,32.5],[120,32.8],[122,33.1],[124,32.7],[126,32.4],[128,32.9],[130,32.2],[132,31.6],[134,30.6],[136,30.1],[138,29.8],[140,30.1],[142,31.5],[144,33.2],[146,34.6],[148,35.6],[150,36.6],[152,37],[154,36],[156,35.2],[158,35.4],[160,35.2],[162,34.8],[164,35.3],[166,36.2],[168,36.9],[170,37.3],[172,37.5],[174,35.2],[176,33.4],[178,35.6],[180,37.3],[181,37.8],[181.2,35]],
  [[0,1],[2,2.9],[4,4.7],[6,6.3],[8,7.8],[10,9.2],[12,10.5],[14,11.9],[16,13.3],[18,14.8],[20,16.6],[22,18.5],[24,20.4],[26,22.5],[28,24.8],[30,27],[32,27.6],[34,27.8],[36,27.9],[37.5,27.5],[38.5,26],[40,25.8],[42,27.5],[44,29.3],[46,31.4],[48,33.2],[50,34],[52,33.5],[54,32.8],[56,31.4],[58,30.6],[60,30.1],[62,29.8],[64,29.6],[66,29.2],[68,29.5],[70,29.8],[72,30.1],[74,29.8],[76,30.2],[78,30.1],[80,29.8],[82,30],[84,29.7],[86,29.9],[88,30.2],[90,30],[92,29.8],[94,30.1],[96,30.4],[98,30.2],[100,30.6],[102,30.9],[104,31.3],[106,31.2],[108,30.5],[110,30],[112,30.6],[114,31.2],[116,31.7],[118,32],[120,31.8],[122,32.3],[124,32.1],[126,32.6],[128,32.4],[130,31.9],[132,31.3],[134,30.8],[136,30.2],[138,30.6],[140,31.8],[142,33.1],[144,34.3],[146,35.2],[148,36],[150,36.4],[152,35.5],[154,34.3],[156,33.8],[158,33.6],[160,33.9],[162,33.5],[164,33.7],[166,35.4],[168,37],[170,38.3],[171.5,37],[173,35.3],[175,34.5],[177,34.3],[179,34.8],[181,36.3],[182.5,37.5],[184,34.7],[186,34.5],[187.5,34.7],[187.7,33]]
];

// ---- drawing ----
const svg = d3.select("#fig");
const FONT = '"Liberation Sans", Arial, sans-serif';

const seriesStyle = {
  pa12: { color: "#ff0000", label: seriesLabels[0] },
  gf15: { color: "#ffc000", label: seriesLabels[1] },
  gf30: { color: "#70ad47", label: seriesLabels[2] },
  gf50: { color: "#44546a", label: seriesLabels[3] }
};

const panels = [
  { label: panelLabels[0], tpv: tempTPV[0], pa: tempPA12[0],
    box: { l: 91.5, r: 649, t: 29.5, b: 305.5 }, titleOff: 66, labelPos: [9, 30],
    series: [["pa12", a_pa12], ["gf15", a_gf15], ["gf30", a_gf30], ["gf50", a_gf50]],
    width: 2, dashed: null,
    legend: { x: 444, y: 189, w: 202, h: 113, sx0: 449, sx1: 475, tx: 478 } },
  { label: panelLabels[1], tpv: tempTPV[1], pa: tempPA12[1],
    box: { l: 771.5, r: 1329, t: 30, b: 306 }, titleOff: 54, labelPos: [676, 28],
    series: [["pa12", b_pa12], ["gf15", b_gf15], ["gf30", b_gf30], ["gf50", b_gf50]],
    width: 1.8, dashed: "gf50",
    legend: { x: 1113, y: 190, w: 212, h: 113, sx0: 1119, sx1: 1153, tx: 1157 } },
  { label: panelLabels[2], tpv: tempTPV[2], pa: tempPA12[2],
    box: { l: 91.5, r: 649, t: 416, b: 691.7 }, titleOff: 66, labelPos: [10, 401.5],
    series: [["gf30", c_gf30], ["gf50", c_gf50]],
    width: 1.6, dashed: null,
    legend: { x: 444, y: 632, w: 204, h: 56, sx0: 450, sx1: 477, tx: 479 } },
  { label: panelLabels[3], tpv: tempTPV[3], pa: tempPA12[3],
    box: { l: 770.7, r: 1327.3, t: 416.7, b: 692 }, titleOff: 54, labelPos: [676, 398],
    series: [["gf30", d_gf30], ["gf50", d_gf50]],
    width: 1.6, dashed: null,
    legend: { x: 1123, y: 632, w: 204, h: 56, sx0: 1128, sx1: 1155, tx: 1157 } }
];

panels.forEach(p => {
  const g = svg.append("g");
  const B = p.box;
  const x = d3.scaleLinear().domain([0, 200]).range([B.l, B.r]);
  const y = d3.scaleLinear().domain([0, 60]).range([B.b, B.t]);

  // grid
  g.append("g").selectAll("line").data(xTicks.slice(1)).join("line")
    .attr("x1", d => x(d)).attr("x2", d => x(d)).attr("y1", B.t).attr("y2", B.b)
    .attr("stroke", "#bfbfbf").attr("stroke-width", 1.1);
  g.append("g").selectAll("line").data(yTicks.slice(1)).join("line")
    .attr("x1", B.l).attr("x2", B.r).attr("y1", d => y(d)).attr("y2", d => y(d))
    .attr("stroke", "#bfbfbf").attr("stroke-width", 1.1);

  // plot frame
  g.append("rect").attr("x", B.l).attr("y", B.t).attr("width", B.r - B.l).attr("height", B.b - B.t)
    .attr("fill", "none").attr("stroke", "#3a3a3a").attr("stroke-width", 1.2);

  // axes
  const ax = g.append("g").attr("transform", `translate(0,${B.b})`)
    .call(d3.axisBottom(x).tickValues(xTicks).tickSize(5).tickSizeOuter(0).tickPadding(8));
  const ay = g.append("g").attr("transform", `translate(${B.l},0)`)
    .call(d3.axisLeft(y).tickValues(yTicks).tickSize(5).tickSizeOuter(0).tickPadding(10));
  [ax, ay].forEach(a => {
    a.select(".domain").attr("stroke", "#262626").attr("stroke-width", 1.4);
    a.selectAll(".tick line").attr("stroke", "#262626").attr("stroke-width", 1.2);
    a.selectAll(".tick text").attr("font-family", FONT).attr("font-size", 18.5).attr("fill", "#1a1a1a");
  });
  ax.selectAll(".tick text").attr("dy", "0.95em");

  // axis titles
  g.append("text").attr("x", (B.l + B.r) / 2).attr("y", B.b + 53)
    .attr("text-anchor", "middle").attr("font-family", FONT).attr("font-weight", "bold")
    .attr("font-size", 18).attr("fill", "#1a1a1a").text("Crosshead displacement [mm]");
  g.append("text")
    .attr("transform", `translate(${B.l - p.titleOff},${(B.t + B.b) / 2}) rotate(-90)`)
    .attr("text-anchor", "middle").attr("font-family", FONT).attr("font-weight", "bold")
    .attr("font-size", 18).attr("fill", "#1a1a1a").text("Peel force [N]");

  // panel letter
  g.append("text").attr("x", p.labelPos[0]).attr("y", p.labelPos[1])
    .attr("font-family", FONT).attr("font-size", 25).attr("fill", "#1a1a1a").text(p.label);

  // processing temperatures
  const cx = B.l + 211;
  const addTemp = (yy, sub, val) => {
    const t = g.append("text").attr("x", cx).attr("y", yy).attr("text-anchor", "middle")
      .attr("font-family", FONT).attr("font-size", 20).attr("fill", "#1a1a1a");
    t.append("tspan").attr("font-weight", "bold").attr("font-size", 21).text("T");
    t.append("tspan").attr("font-weight", "bold").attr("font-size", 14).attr("dy", 5).text(sub);
    t.append("tspan").attr("dy", -5).text(`: ${val} °C`);
  };
  addTemp(B.t + 16.5, "TPV", p.tpv);
  addTemp(B.t + 40, "PA12", p.pa);

  // curves
  const line = d3.line().x(d => x(d[0])).y(d => y(d[1]));
  p.series.forEach(([key, curves]) => {
    g.append("g").selectAll("path").data(curves).join("path")
      .attr("d", line).attr("fill", "none")
      .attr("stroke", seriesStyle[key].color).attr("stroke-width", p.width)
      .attr("stroke-linejoin", "round")
      .attr("stroke-dasharray", p.dashed === key ? "5,3" : null);
  });

  // legend
  const L = p.legend;
  const lg = g.append("g");
  lg.append("rect").attr("x", L.x).attr("y", L.y).attr("width", L.w).attr("height", L.h)
    .attr("fill", "#fff").attr("stroke", "#262626").attr("stroke-width", 1.3);
  const step = p.series.length === 4 ? 27.7 : 27;
  p.series.forEach(([key], i) => {
    const cy = L.y + 14 + i * step;
    lg.append("line").attr("x1", L.sx0).attr("x2", L.sx1).attr("y1", cy).attr("y2", cy)
      .attr("stroke", seriesStyle[key].color).attr("stroke-width", p.width)
      .attr("stroke-dasharray", p.dashed === key ? "5,3" : null);
    lg.append("text").attr("x", L.tx).attr("y", cy).attr("dy", "0.35em")
      .attr("font-family", FONT).attr("font-size", 18).attr("fill", "#1a1a1a")
      .text(seriesStyle[key].label);
  });
});
</script>
</body>
</html>
